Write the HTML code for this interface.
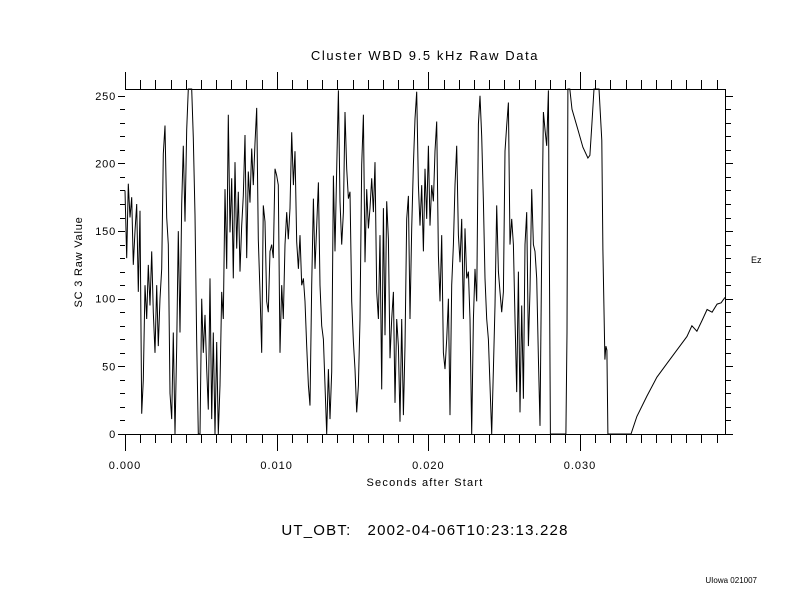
<!DOCTYPE html>
<html><head><meta charset="utf-8"><style>
html,body{margin:0;padding:0;background:#fff;}
svg{display:block;}
text{font-family:"Liberation Sans",sans-serif;fill:#000;white-space:pre;}
</style></head><body>
<svg id="chart" width="800" height="600" viewBox="0 0 800 600" xmlns="http://www.w3.org/2000/svg">
<rect x="0" y="0" width="800" height="600" fill="#fff"/>
<text x="425" y="60" font-size="13" letter-spacing="1.6" text-anchor="middle">Cluster WBD 9.5 kHz Raw Data</text>
<text transform="translate(82,262) rotate(-90)" font-size="11" letter-spacing="0.8" text-anchor="middle">SC 3 Raw Value</text>
<text x="425" y="486" font-size="11" letter-spacing="1.2" text-anchor="middle">Seconds after Start</text>
<text x="425" y="535" font-size="15" letter-spacing="1.2" text-anchor="middle" xml:space="preserve">UT_OBT:   2002-04-06T10:23:13.228</text>
<text x="751" y="263" font-size="9">Ez</text>
<text x="757" y="583" font-size="8" text-anchor="end">UIowa 021007</text>
<g id="axes"></g>
<g id="series"></g>
</svg>
<script>
// dense samples, uniform interval (ms)
const sampleIntervalMs = 0.1099;
const denseValues = [
180,130,185,160,175,125,150,170,105,165,15,40,110,85,125,95,135,90,60,110,
65,100,122,
207,228,160,140,30,11,75,0,65,
150,75,170,213,157,225,255,255,255,219,162,68,0,0,100,60,88,48,18,115,
11,75,0,68,0,36,105,85,181,122,236,149,189,115,201,137,179,120,154,176,
221,130,194,171,211,184,215,241,144,105,60,169,157,98,90,135,140,130,196,191,
184,
60,110,85,140,164,144,167,223,184,209,142,122,147,110,115,98,65,36,21,110,
174,122,154,186,110,80,70,36,0,48,11,46,191,135,196,254,172,140,164,238,
196,174,179,98,68,48,16,36,85,199,236,127,181,152,167,189,164,201,105,85,
147,33,167,73,172,144,56,85,105,23,85,65,9,85,14,65,159,176,85,152,
199,233,253,184,154,184,135,196,159,213,
154,184,172,209,231,132,98,147,60,48,70,100,14,110,140,184,213,147,127,159,
85,152,115,120,85,0,85,122,98,229,250,220,172,115,85,70,36,0,48,95,
169,120,105,90,105,209,228,245,140,159,140,85,31,120,16,95,26,140,164,65,
106,181,140,135,115,56,6,135,238,225,213,254
];
// tail samples with explicit times (ms)
const tailTimesMs = [28.05,29.0,29.07,29.14,29.2,29.33,29.47,29.86,30.19,30.52,30.65,30.78,30.92,31.25,31.44,31.51,31.64,31.71,31.77,31.84,33.36,33.75,34.41,35.07,35.73,36.39,37.05,37.38,37.71,38.05,38.38,38.71,39.04,39.3,39.56];
const tailValues = [0,0,0,75,255,255,240,225,212,204,206,228,255,255,217,136,55,65,62,0,0,13,28,42,52,62,72,80,76,84,92,90,96,97,101];
const xTickValues = [0.000,0.010,0.020,0.030];
const xTickLabels = ["0.000","0.010","0.020","0.030"];
const yTickValues = [0,50,100,150,200,250];
const yTickLabels = ["0","50","100","150","200","250"];

const L=125,R=725,T=89,B=434,XMAX=0.03956,YMAX=255;
function xs(s){return L+(s/XMAX)*(R-L);}
function ys(v){return B-(v/YMAX)*(B-T);}
const NS="http://www.w3.org/2000/svg";
const axes=document.getElementById('axes');
function line(x1,y1,x2,y2,name){
  const l=document.createElementNS(NS,'line');
  l.setAttribute('x1',x1);l.setAttribute('y1',y1);l.setAttribute('x2',x2);l.setAttribute('y2',y2);
  l.setAttribute('stroke','#000');l.setAttribute('stroke-width','1');
  
  
  axes.appendChild(l);return l;
}
line(L,T+0.5,R,T+0.5,'top-axis');
line(L,B+0.5,R,B+0.5,'bottom-axis');
line(R+0.5,T,R+0.5,B,'right-axis');
for(let i=0;i*0.001<=XMAX+1e-9;i++){
  const x=Math.round(xs(i*0.001))+0.5;const major=i%10===0;
  line(x,T,x,T-(major?17:9),'top-tick');
  line(x,B,x,B+(major?17:9),'bottom-tick');
}
for(let v=0;v<=YMAX;v+=10){
  const y=Math.round(ys(v))+0.5;const major=v%50===0;
  line(L-(major?7:5),y,L,y,'left-tick');
  line(R,y,R+(major?8:6),y,'right-tick');
}
xTickValues.forEach((v,i)=>{
  const t=document.createElementNS(NS,'text');
  t.setAttribute('x',xs(v));t.setAttribute('y',469);t.setAttribute('font-size','11');t.setAttribute('letter-spacing','1');t.setAttribute('text-anchor','middle');
  t.textContent=xTickLabels[i];
  
  
  axes.appendChild(t);
});
yTickValues.forEach((v,i)=>{
  const t=document.createElementNS(NS,'text');
  t.setAttribute('x',116);t.setAttribute('y',ys(v)+4);t.setAttribute('font-size','11');t.setAttribute('letter-spacing','0.8');t.setAttribute('text-anchor','end');
  t.textContent=yTickLabels[i];
  
  
  axes.appendChild(t);
});
const pts=[];
denseValues.forEach((v,k)=>{pts.push(xs(k*sampleIntervalMs/1000).toFixed(1)+','+ys(v).toFixed(1));});
tailTimesMs.forEach((t,k)=>{pts.push(xs(t/1000).toFixed(1)+','+ys(tailValues[k]).toFixed(1));});
const pl=document.createElementNS(NS,'polyline');
pl.setAttribute('points',pts.join(' '));
pl.setAttribute('fill','none');pl.setAttribute('stroke','#000');pl.setAttribute('stroke-width','1');
pl.setAttribute('stroke-linejoin','miter');


document.getElementById('series').appendChild(pl);
</script>
</body></html>
